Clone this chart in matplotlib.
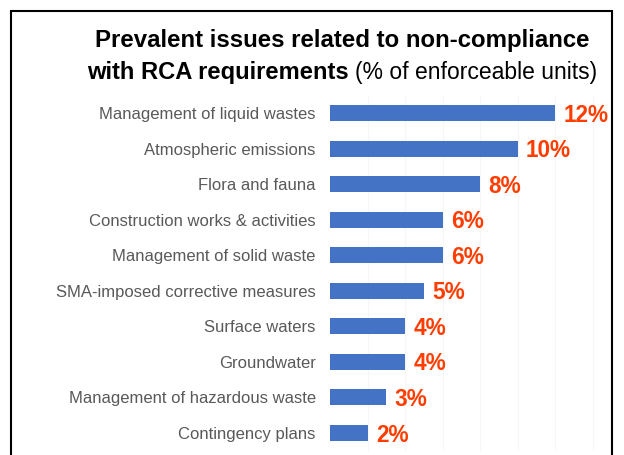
import matplotlib
matplotlib.use("Agg")
import matplotlib.pyplot as plt
from matplotlib.patches import Rectangle

categories = [
    "Management of liquid wastes",
    "Atmospheric emissions",
    "Flora and fauna",
    "Construction works & activities",
    "Management of solid waste",
    "SMA-imposed corrective measures",
    "Surface waters",
    "Groundwater",
    "Management of hazardous waste",
    "Contingency plans",
]
values = [12, 10, 8, 6, 6, 5, 4, 4, 3, 2]
value_labels = ["12%", "10%", "8%", "6%", "6%", "5%", "4%", "4%", "3%", "2%"]

W, H = 624, 455
fig = plt.figure(figsize=(W / 100, H / 100), dpi=100)
plt.rcParams['font.family'] = ['Liberation Sans', 'DejaVu Sans']

# axes placement in pixels
left_px, right_px = 330, 600
top_px, bot_px = 95.25, 450.75
ax = fig.add_axes([left_px / W, (H - bot_px) / H, (right_px - left_px) / W, (bot_px - top_px) / H])
ypos = list(range(len(categories)))
ax.barh(ypos, values, height=0.45, color="#4472C4", zorder=2)
ax.set_xlim(0, (right_px - left_px) / 18.75)
ax.set_ylim(len(categories) - 0.5, -0.5)
for x in [2, 4, 6, 8, 10, 12, 14]:
    ax.axvline(x, color="#f6f6f6", lw=0.8, zorder=0)
ax.set_yticks(ypos)
ax.set_yticklabels(categories, fontsize=12, color="#595959")
ax.tick_params(axis="y", length=0, pad=10.3)
ax.set_xticks([])
for s in ax.spines.values():
    s.set_visible(False)
for y, v, lab in zip(ypos, values, value_labels):
    ax.annotate(lab, (v, y), xytext=(6, -1.5), textcoords="offset points",
                ha="left", va="center", fontsize=16.3, fontweight="bold",
                color="#FF3D00", annotation_clip=False)

# title
fig.text(342 / W, 1 - 41 / H, "Prevalent issues related to non-compliance",
         ha="center", va="center", fontsize=17.3, fontweight="bold", color="black")
t1 = fig.text(87 / W, 1 - 72 / H, "with RCA requirements ", ha="left", va="center",
              fontsize=17.1, fontweight="bold", color="black")
fig.canvas.draw()
bb = t1.get_window_extent()
fig.text(bb.x1 / W, 1 - 72 / H, "(% of enforceable units)", ha="left", va="center",
         fontsize=16.5, color="black")

# frame border
fig.add_artist(Rectangle((11 / W, -0.05), (612 - 11) / W, 1.05 - 11 / H,
                         transform=fig.transFigure, fill=False, ec="black", lw=1.5))

fig.savefig("out.png", dpi=100)
